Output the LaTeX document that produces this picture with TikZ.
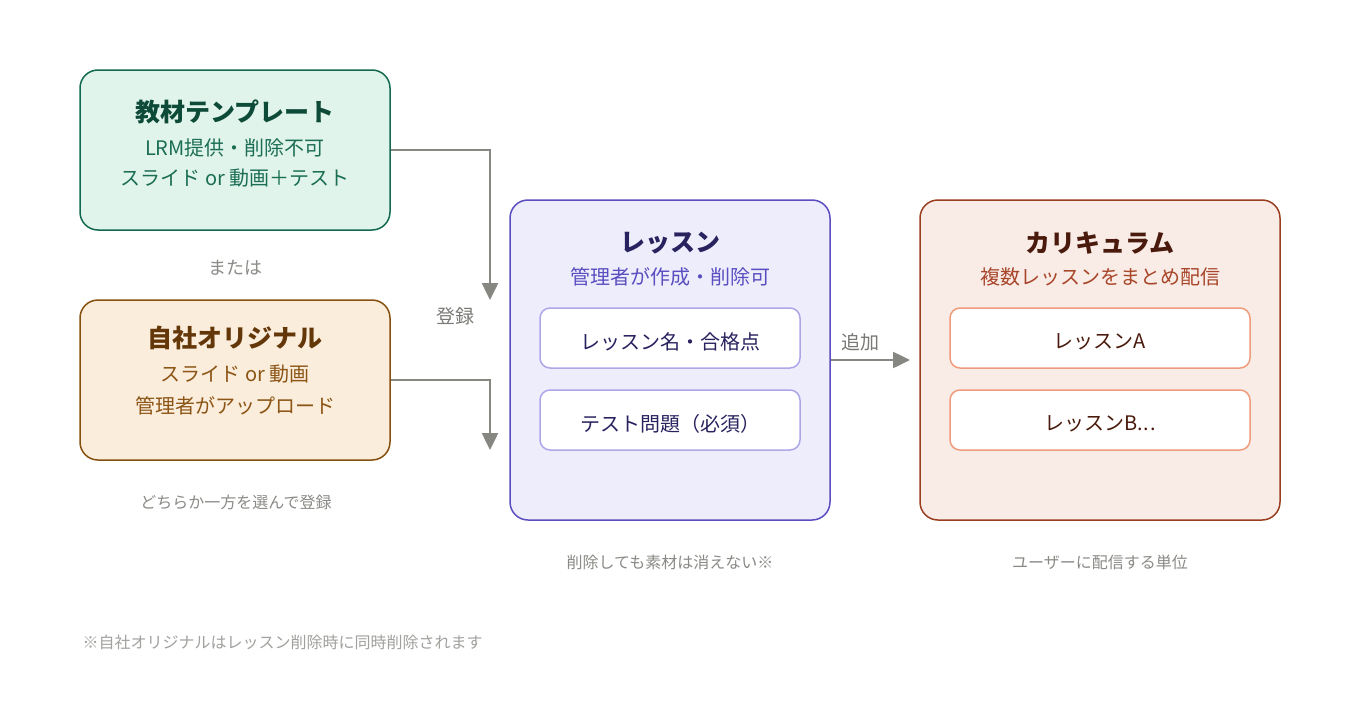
\documentclass[tikz,border=0pt]{standalone}
\usepackage{fontspec}
\setmainfont{Noto Sans CJK JP}
\usepackage{tikz}
\usetikzlibrary{positioning,arrows.meta}
\definecolor{tmplfill}{HTML}{E1F4EC}
\definecolor{tmplline}{HTML}{13694F}
\definecolor{tmplhead}{HTML}{0D4A38}
\definecolor{tmpltext}{HTML}{1B6E54}
\definecolor{origfill}{HTML}{FAEDDB}
\definecolor{origline}{HTML}{86500E}
\definecolor{orighead}{HTML}{643709}
\definecolor{origtext}{HTML}{8C5516}
\definecolor{lessfill}{HTML}{EEEDFB}
\definecolor{lessline}{HTML}{5A4EC0}
\definecolor{lesshead}{HTML}{28225F}
\definecolor{lesstext}{HTML}{5A4EC0}
\definecolor{lessitem}{HTML}{ADA7E8}
\definecolor{currfill}{HTML}{F9ECE7}
\definecolor{currline}{HTML}{9A3E20}
\definecolor{currhead}{HTML}{4A1B0C}
\definecolor{currtext}{HTML}{A8462A}
\definecolor{curritem}{HTML}{EE9C7C}
\definecolor{flowgray}{HTML}{878782}
\definecolor{notegray}{HTML}{8A8A86}

\begin{document}
\begin{tikzpicture}[x=1pt,y=-1pt]
  \tikzset{
    bigbox/.style={draw,rounded corners=18pt,line width=1.5pt,inner sep=0pt},
    itembox/.style={draw,fill=white,rounded corners=10pt,line width=1.5pt,inner sep=0pt,
      minimum height=60pt},
    headtxt/.style={font=\fontsize{25}{29}\selectfont\bfseries},
    subtxt/.style={font=\fontsize{20}{24}\selectfont},
    notetxt/.style={font=\fontsize{16}{19}\selectfont,text=notegray},
    flowtxt/.style={font=\fontsize{19}{23}\selectfont,text=flowgray!90!black},
    flow/.style={draw=flowgray,line width=2.5pt,-{Triangle[width=16pt,length=17pt]}}
  }
  \useasboundingbox[fill=white] (0,0) rectangle (1360,720);
  % left: the two sources
  \node[bigbox,fill=tmplfill,draw=tmplline,minimum width=310pt,minimum height=160pt] (tmpl) at (235,150) {};
  \node[headtxt,text=tmplhead] (tmplhead) at (235,112) {教材テンプレート};
  \node[subtxt,text=tmpltext] (tmplsub1) at (235,148) {LRM提供・削除不可};
  \node[subtxt,text=tmpltext] (tmplsub2) at (235,178) {スライド or 動画＋テスト};
  \node[font=\fontsize{18}{22}\selectfont,text=notegray] (either) at (235,268) {または};
  \node[bigbox,fill=origfill,draw=origline,minimum width=310pt,minimum height=160pt] (orig) at (235,380) {};
  \node[headtxt,text=orighead] (orighead) at (235,338) {自社オリジナル};
  \node[subtxt,text=origtext] (origsub1) at (235,374) {スライド or 動画};
  \node[subtxt,text=origtext] (origsub2) at (235,406) {管理者がアップロード};
  \node[notetxt] (choose) at (236,502) {どちらか一方を選んで登録};

  % middle: lesson
  \node[bigbox,fill=lessfill,draw=lessline,minimum width=320pt,minimum height=320pt] (less) at (670,360) {};
  \node[headtxt,text=lesshead] (lesshead) at (670,243) {レッスン};
  \node[subtxt,text=lesstext] (lesssub) at (670,277) {管理者が作成・削除可};
  \foreach \y/\lbl/\nm in {338/レッスン名・合格点/lessA,420/テスト問題（必須）/lessB}{
    \node[itembox,draw=lessitem,minimum width=260pt] (\nm) at (670,\y) {};
    \node[subtxt,text=lesshead] at ([yshift=-4pt]\nm) {\lbl};
  }
  \node[notetxt] (keep) at (670,562) {削除しても素材は消えない※};

  % right: curriculum
  \node[bigbox,fill=currfill,draw=currline,minimum width=360pt,minimum height=320pt] (curr) at (1100,360) {};
  \node[headtxt,text=currhead] (currhead) at (1100,243) {カリキュラム};
  \node[subtxt,text=currtext] (currsub) at (1100,277) {複数レッスンをまとめ配信};
  \foreach \y/\lbl/\nm in {338/レッスンA/currA,420/{レッスンB.\kern1pt.\kern1pt.}/currB}{
    \node[itembox,draw=curritem,minimum width=300pt] (\nm) at (1100,\y) {};
    \node[subtxt,text=currhead] at ([yshift=-4pt]\nm) {\lbl};
  }
  \node[notetxt] (unit) at (1100,562) {ユーザーに配信する単位};

  % connectors
  \coordinate (regA) at (490,300);
  \coordinate (regB) at (490,450);
  \coordinate (addend) at (910,360);
  \draw[flow] (tmpl.east) -| (regA);
  \draw[flow] (orig.east) -| (regB);
  \node[flowtxt] (reg) at (455,316) {登録};
  \draw[flow] (less.east) -- (addend);
  \node[flowtxt] (add) at (860,342) {追加};

  \node[notetxt,anchor=west,text=notegray!80] (foot) at (79,642) {※自社オリジナルはレッスン削除時に同時削除されます};
\end{tikzpicture}
\end{document}
